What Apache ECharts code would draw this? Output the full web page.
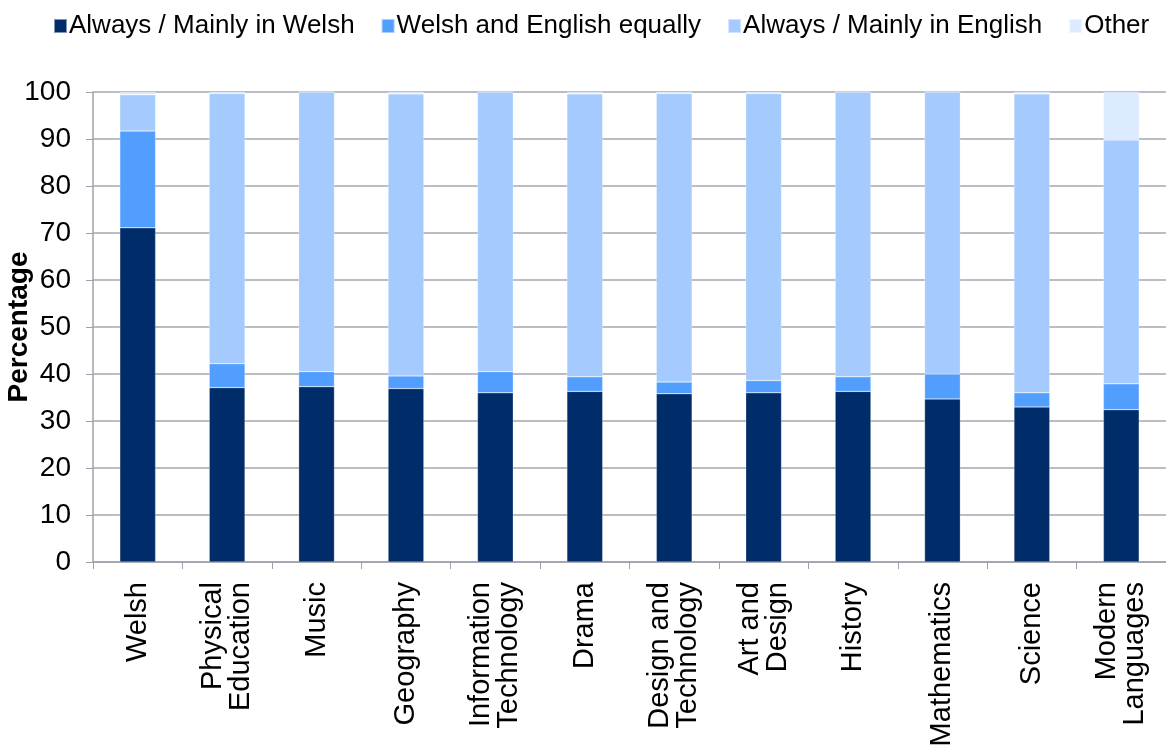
<!DOCTYPE html>
<html>
<head>
<meta charset="utf-8">
<script src="https://cdn.jsdelivr.net/npm/echarts@6/dist/echarts.min.js"></script>
<style>html,body{margin:0;padding:0;background:#fff}#c{width:1166px;height:745px}</style>
</head>
<body>
<div id="c"></div>
<script>
const categories = ["Welsh","Physical\nEducation","Music","Geography","Information\nTechnology","Drama","Design and\nTechnology","Art and\nDesign","History","Mathematics","Science","Modern\nLanguages"];
const seriesNames = ["Always / Mainly in Welsh","Welsh and English equally","Always / Mainly in English","Other"];
const mainlyWelsh = [71.1,37.1,37.3,36.9,36.0,36.3,35.8,36.0,36.3,34.7,33.0,32.4];
const bothEqually = [20.6,5.1,3.2,2.7,4.5,3.1,2.5,2.6,3.1,5.3,3.0,5.5];
const mainlyEnglish = [7.7,57.5,59.5,60.0,59.5,60.2,61.4,61.1,60.6,60.0,63.6,51.9];
const other = [0.6,0.3,0.0,0.4,0.0,0.4,0.3,0.3,0.0,0.0,0.4,10.2];
const yTicks = [0,10,20,30,40,50,60,70,80,90,100];

const colors = ["#002C69","#529EFF","#A4CAFE","#DCEBFF"];
const dataSets = [mainlyWelsh,bothEqually,mainlyEnglish,other];
const font = "Liberation Sans, Arial, sans-serif";

const chart = echarts.init(document.getElementById('c'));
chart.setOption({
  animation:false,
  color:colors,
  textStyle:{fontFamily:font},
  legend:{
    top:8,left:48,width:1116,itemWidth:13,itemHeight:14,itemGap:26,
    icon:'rect',
    textStyle:{fontSize:26,color:'#000',fontFamily:font,padding:[0,0,0,-3]},
    data:seriesNames
  },
  grid:{left:93,right:0,top:92,bottom:183,containLabel:false,outerBoundsMode:'none'},
  xAxis:{
    type:'category',data:categories,
    axisLine:{lineStyle:{color:'#A0A0AA',width:1.5}},
    axisTick:{show:true,alignWithLabel:false,length:7,lineStyle:{color:'#A0A0AA'}},
    axisLabel:{rotate:90,fontSize:29,color:'#000',fontFamily:font,margin:20,lineHeight:28,interval:0,align:'right',verticalAlign:'middle'}
  },
  yAxis:{
    type:'value',min:0,max:100,interval:10,
    name:'Percentage',nameLocation:'middle',nameGap:60,nameMoveOverlap:false,
    nameTextStyle:{fontSize:28,fontWeight:'bold',color:'#000',fontFamily:font},
    axisLine:{show:true,lineStyle:{color:'#A0A0AA',width:1.5}},
    axisTick:{show:true,length:7,lineStyle:{color:'#A0A0AA'}},
    axisLabel:{fontSize:28,color:'#000',fontFamily:font,margin:22,formatter:v=>yTicks.includes(v)?String(v):''},
    splitLine:{lineStyle:{color:'#A6A6B0',width:1.5}}
  },
  series:seriesNames.map((n,i)=>({
    name:n,type:'bar',stack:'total',barWidth:'40%',
    data:dataSets[i],
    itemStyle:{color:colors[i],borderColor:'rgba(255,255,255,0.5)',borderWidth:0.5}
  }))
});
</script>
</body>
</html>
